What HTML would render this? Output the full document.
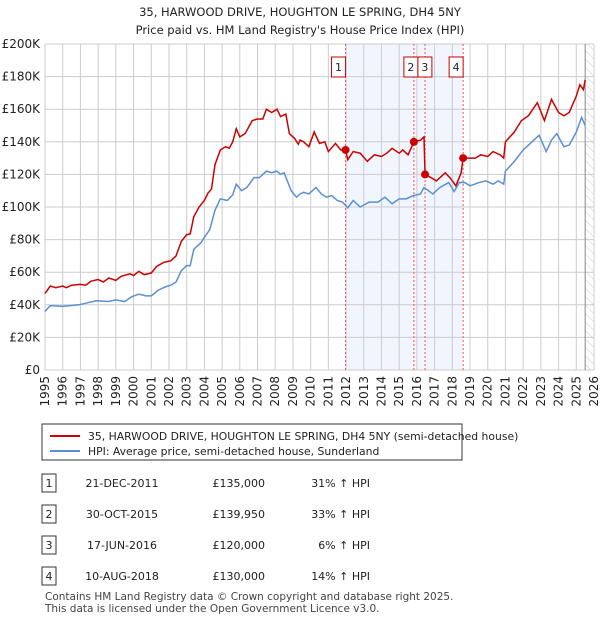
<!DOCTYPE html>
<html><head><meta charset="utf-8"><style>
body{margin:0;background:#fff;font-family:"Liberation Sans","DejaVu Sans",sans-serif;}
svg text{font-family:"DejaVu Sans","Liberation Sans",sans-serif;}
</style></head><body>
<svg id="c" width="600" height="620" xmlns="http://www.w3.org/2000/svg">
<defs><pattern id="hatch" width="6" height="6" patternUnits="userSpaceOnUse" patternTransform="rotate(-45)"><line x1="0" y1="0" x2="0" y2="6" stroke="#ccc" stroke-width="1"/></pattern></defs>
<text x="300" y="16" text-anchor="middle" font-size="11.5" fill="#222">35, HARWOOD DRIVE, HOUGHTON LE SPRING, DH4 5NY</text>
<text x="300" y="34" text-anchor="middle" font-size="11.5" fill="#222">Price paid vs. HM Land Registry's House Price Index (HPI)</text>
<g id="plot"></g>
<g>
<rect x="42" y="424" width="420" height="36" fill="#fff" stroke="#333" stroke-width="1"/>
<line x1="50" y1="436" x2="80" y2="436" stroke="#cc0000" stroke-width="2"/>
<text x="88" y="440" font-size="10.8" fill="#222">35, HARWOOD DRIVE, HOUGHTON LE SPRING, DH4 5NY (semi-detached house)</text>
<line x1="50" y1="451" x2="80" y2="451" stroke="#5b8fd4" stroke-width="2"/>
<text x="88" y="455" font-size="10.8" fill="#222">HPI: Average price, semi-detached house, Sunderland</text>
</g>
<g id="table" font-size="11" fill="#222"></g>
<text x="45" y="600" font-size="10.5" fill="#444">Contains HM Land Registry data © Crown copyright and database right 2025.</text>
<text x="45" y="612" font-size="10.5" fill="#444">This data is licensed under the Open Government Licence v3.0.</text>
</svg>
<script>
const hpiYears=[1995.0,1995.3,1996.0,1996.9,1997.3,1997.9,1998.6,1999.0,1999.5,1999.9,2000.3,2000.7,2001.0,2001.4,2001.8,2002.1,2002.4,2002.7,2003.0,2003.2,2003.4,2003.8,2004.1,2004.3,2004.6,2004.9,2005.3,2005.6,2005.8,2006.1,2006.4,2006.8,2007.1,2007.5,2007.8,2008.1,2008.3,2008.5,2008.9,2009.2,2009.4,2009.6,2009.9,2010.3,2010.6,2010.9,2011.2,2011.5,2011.8,2012.1,2012.4,2012.8,2013.3,2013.8,2014.2,2014.6,2015.0,2015.4,2015.8,2016.2,2016.4,2016.9,2017.3,2017.8,2018.1,2018.4,2018.7,2019.0,2019.5,2019.9,2020.3,2020.6,2020.9,2021.0,2021.5,2022.0,2022.4,2022.9,2023.3,2023.6,2023.9,2024.3,2024.6,2025.0,2025.3,2025.5];
const hpiValues=[36,39.5,39,40,41,42.5,42,43,42,45,46.5,45.5,45.5,49,51,52,54,61,64,64,74,78,83,86,98,105,104,107.5,114,110,112,118,118,122,121,122,120,121,110,106,108,109,108,112,108,106,107,104,103,99.5,104,100,103,103,106,102,105,105,107,108,112,108,112,115,109.5,115,115,113,115,116,114,116,114,122,128,135,139,144,134,141,145,137,138,146,155,150];
const priceYears=[1995.0,1995.3,1995.6,1996.0,1996.2,1996.5,1997.0,1997.3,1997.6,1998.0,1998.3,1998.6,1999.0,1999.3,1999.8,2000.0,2000.3,2000.6,2001.0,2001.3,2001.7,2002.1,2002.4,2002.7,2003.0,2003.2,2003.4,2003.7,2004.0,2004.2,2004.4,2004.6,2004.9,2005.2,2005.4,2005.6,2005.8,2006.0,2006.3,2006.7,2007.0,2007.3,2007.5,2007.8,2008.1,2008.3,2008.6,2008.8,2009.1,2009.3,2009.4,2009.6,2009.9,2010.2,2010.5,2010.8,2011.0,2011.4,2011.7,2011.97,2012.1,2012.4,2012.8,2013.2,2013.6,2014.0,2014.3,2014.6,2015.0,2015.2,2015.5,2015.83,2016.2,2016.4,2016.46,2016.8,2017.1,2017.6,2017.9,2018.2,2018.5,2018.61,2018.9,2019.3,2019.6,2020.0,2020.3,2020.7,2020.9,2021.0,2021.5,2021.9,2022.3,2022.8,2023.2,2023.6,2024.0,2024.3,2024.6,2025.0,2025.2,2025.4,2025.5];
const priceValues=[47,51.5,50.5,51.5,50.5,52,52.5,52,54.5,55.5,54,56.5,55,57.5,59,58,60.5,58.5,59.5,63.5,66,67,70,79,83,83.5,94,100,104,108.5,111,126,135,137,136,140,148,143,145,153,154,154,160,158,160,155.5,157,145,142,138.5,141,140,137,146,139,140,134,139,135,135,129,134,133,128,132,131,133,136,133,135,132,140,141,143,120,118,116,121,117.5,113,121,130,130,130,132,131,134,132,130,140,146,153,156,164,153,166,158,156,158,168,175,172,178];
const saleLabels=["1","2","3","4"];
const saleYears=[2011.97,2015.83,2016.46,2018.61];
const salePrices=[135,139.95,120,130];
const saleDates=["21-DEC-2011","30-OCT-2015","17-JUN-2016","10-AUG-2018"];
const salePriceText=["£135,000","£139,950","£120,000","£130,000"];
const saleHpiText=["31% ↑ HPI","33% ↑ HPI","6% ↑ HPI","14% ↑ HPI"];
const yTicks=[0,20,40,60,80,100,120,140,160,180,200];
const yTickLabels=["£0","£20K","£40K","£60K","£80K","£100K","£120K","£140K","£160K","£180K","£200K"];
const xTicks=[1995,1996,1997,1998,1999,2000,2001,2002,2003,2004,2005,2006,2007,2008,2009,2010,2011,2012,2013,2014,2015,2016,2017,2018,2019,2020,2021,2022,2023,2024,2025,2026];

const NS="http://www.w3.org/2000/svg";
const X0=45,X1=594,Y0=370,Y1=44;
const xs=y=>X0+(y-1995)/(2026-1995)*(X1-X0);
const ys=v=>Y0-v/200*(Y0-Y1);
const plot=document.getElementById('plot');
function mk(tag,attrs,parent){const e=document.createElementNS(NS,tag);for(const k in attrs)e.setAttribute(k,attrs[k]);(parent||plot).appendChild(e);return e;}

const shade=mk('rect',{x:xs(saleYears[0]),y:Y1,width:xs(saleYears[3])-xs(saleYears[0]),height:Y0-Y1,fill:'#eef3fc',opacity:0.8});


const hz=mk('rect',{x:xs(2025.5),y:Y1,width:X1-xs(2025.5),height:Y0-Y1,fill:'url(#hatch)'});



yTicks.forEach((t,i)=>{
  const l=mk('line',{x1:X0,x2:X1,y1:ys(t),y2:ys(t),stroke:'#ccc','stroke-width':1});
  
  
  const tx=mk('text',{x:X0-5,y:ys(t)+4,'text-anchor':'end','font-size':12,fill:'#222'});
  tx.textContent=yTickLabels[i];
  
  
});
xTicks.forEach(t=>{
  const l=mk('line',{x1:xs(t),x2:xs(t),y1:Y1,y2:Y0,stroke:'#ccc','stroke-width':1});
  
  
  const tx=mk('text',{x:0,y:0,'text-anchor':'end','font-size':12,fill:'#222',transform:`translate(${xs(t)+4},${Y0+6}) rotate(-90)`});
  tx.textContent=t;
  
  
});
const nl=mk('line',{x1:xs(2025.5),x2:xs(2025.5),y1:Y1,y2:Y0,stroke:'#888','stroke-width':1});



saleYears.forEach((y,i)=>{
  const l=mk('line',{x1:xs(y),x2:xs(y),y1:Y1,y2:Y0,stroke:'#e55','stroke-width':1,'stroke-dasharray':'2,2'});
  
  
});

const hp=mk('polyline',{points:hpiYears.map((y,i)=>xs(y)+','+ys(hpiValues[i])).join(' '),fill:'none',stroke:'#5b8fd4','stroke-width':1.5});


const pp=mk('polyline',{points:priceYears.map((y,i)=>xs(y)+','+ys(priceValues[i])).join(' '),fill:'none',stroke:'#cc0000','stroke-width':1.5});



saleYears.forEach((y,i)=>{
  const c=mk('circle',{cx:xs(y),cy:ys(salePrices[i]),r:4,fill:'#cc0000'});
  
  
  let bx=xs(y)-14;
  if(i===2)bx=xs(saleYears[1])+4;
  if(i===1)bx=xs(saleYears[1])-10;
  const g=mk('g',{});
  
  
  mk('rect',{x:bx,y:57,width:14,height:20,fill:'#fff',stroke:'#cc0000','stroke-width':1},g);
  const t=mk('text',{x:bx+7,y:71,'text-anchor':'middle','font-size':11,fill:'#222'},g);
  t.textContent=saleLabels[i];
});
const tb=document.getElementById('table');
const rowY=[483,514,545,576];
saleLabels.forEach((l,i)=>{
  const g=mk('g',{},tb);
  
  
  mk('rect',{x:42,y:rowY[i]-9,width:14,height:18,fill:'#fff',stroke:'#333','stroke-width':1},g);
  const a=mk('text',{x:49,y:rowY[i]+4,'text-anchor':'middle'},g);a.textContent=l;
  const b=mk('text',{x:122,y:rowY[i]+4,'text-anchor':'middle'},g);b.textContent=saleDates[i];
  const c=mk('text',{x:265,y:rowY[i]+4,'text-anchor':'end'},g);c.textContent=salePriceText[i];
  const d=mk('text',{x:370,y:rowY[i]+4,'text-anchor':'end'},g);d.textContent=saleHpiText[i];
});
</script>
</body></html>
